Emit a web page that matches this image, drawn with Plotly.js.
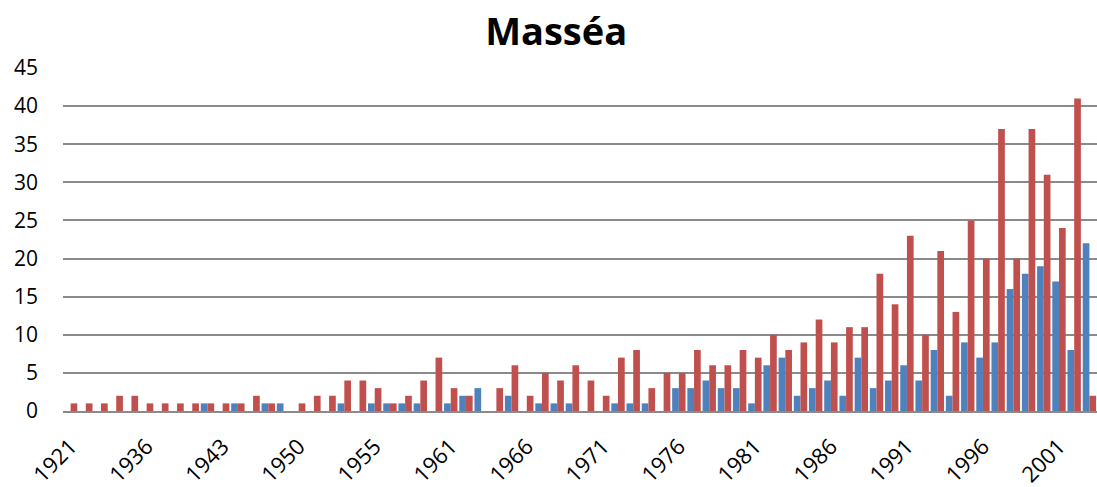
<!DOCTYPE html>
<html>
<head>
<meta charset="utf-8">
<script src="https://cdn.plot.ly/plotly-3.0.1.min.js"></script>
<style>
html, body { margin: 0; padding: 0; background: #fff; }
#chart { width: 1097px; height: 487px; }
</style>
</head>
<body>
<div id="chart"></div>
<script>
// Categories (years)
const years = [
  '1921','1925','1928','1931','1933','1936','1937','1938','1940','1942',
  '1943','1945','1946','1947','1948','1950','1951','1952','1953','1954',
  '1955','1956','1957','1958','1960','1961','1962','1963','1964','1965',
  '1966','1967','1968','1969','1970','1971','1972','1973','1974','1975',
  '1976','1977','1978','1979','1980','1981','1982','1983','1984','1985',
  '1986','1987','1988','1989','1990','1991','1992','1993','1994','1995',
  '1996','1997','1998','1999','2000','2001','2002','2003'
];

// Blue series
const serie1 = [
  0,0,0,0,0,0,0,0,0,1,
  0,1,0,1,1,0,0,0,1,0,
  1,1,1,1,0,1,2,3,0,2,
  0,1,1,1,0,0,1,1,1,0,
  3,3,4,3,3,1,6,7,2,3,
  4,2,7,3,4,6,4,8,2,9,
  7,9,16,18,19,17,8,22
];

// Red series
const serie2 = [
  1,1,1,2,2,1,1,1,1,1,
  1,1,2,1,0,1,2,2,4,4,
  3,1,2,4,7,3,2,0,3,6,
  2,5,4,6,4,2,7,8,3,5,
  5,8,6,6,8,7,10,8,9,12,
  9,11,11,18,14,23,10,21,13,25,
  20,37,20,37,31,24,41,2
];

// Tick labels shown on the x axis
const tickLabels = ['1921','1936','1943','1950','1955','1961','1966','1971','1976','1981','1986','1991','1996','2001'];

const font = "'Open Sans', 'DejaVu Sans', sans-serif";

const data = [
  { type: 'bar', name: 'Série1', x: years, y: serie1, marker: { color: '#4F81BD' } },
  { type: 'bar', name: 'Série2', x: years, y: serie2, marker: { color: '#C0504D' } }
];

const layout = {
  width: 1097, height: 487,
  margin: { l: 63, r: 0, t: 68, b: 76 },
  paper_bgcolor: '#fff', plot_bgcolor: '#fff',
  showlegend: false,
  barmode: 'group',
  bargap: 0.12,
  bargroupgap: 0,
  title: {
    text: '<b>Masséa</b>',
    font: { family: font, size: 38, color: '#000' },
    x: 0.507, xref: 'container', xanchor: 'center',
    y: 0.935, yref: 'container', yanchor: 'middle'
  },
  xaxis: {
    type: 'category',
    tickmode: 'array',
    tickvals: tickLabels,
    ticktext: tickLabels,
    tickangle: -45,
    ticks: '',
    ticklabelstandoff: 12,
    tickfont: { family: font, size: 22, color: '#000' },
    showgrid: false,
    showline: true, linecolor: '#8a8a8a', linewidth: 2,
    zeroline: false
  },
  yaxis: {
    range: [0, 45],
    dtick: 5,
    tick0: 0,
    ticks: '',
    ticklabelstandoff: 24,
    tickfont: { family: font, size: 21, color: '#000' },
    showgrid: true, gridcolor: '#8a8a8a', gridwidth: 2,
    zeroline: false,
    showline: false
  }
};

Plotly.newPlot('chart', data, layout, { displayModeBar: false, staticPlot: true });
</script>
</body>
</html>
